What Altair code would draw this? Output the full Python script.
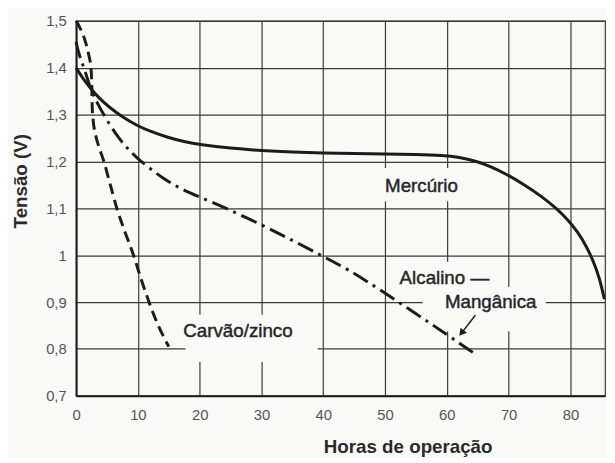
import altair as alt
import pandas as pd

# ---- data ----
merc_x = [0, 1, 2.4, 3.5, 5.3, 7.5, 9.8, 12, 14.9, 17.5, 20, 25, 30, 35, 40, 45, 50, 55,
          59.4, 62, 64.7, 67, 69.5, 72.5, 75.4, 77.8, 79.7, 81.2, 82.5, 83.7, 84.7, 85.5]
merc_y = [1.40, 1.379, 1.355, 1.338, 1.316, 1.295, 1.277, 1.264, 1.251, 1.242, 1.236, 1.228,
          1.223, 1.220, 1.218, 1.217, 1.216, 1.215, 1.213, 1.209, 1.201, 1.190, 1.174, 1.151,
          1.125, 1.099, 1.074, 1.049, 1.021, 0.988, 0.952, 0.906]

carv_x = [0, 0.7, 1.4, 2.0, 2.4, 2.55, 2.6, 2.75, 3.1, 3.6, 4.5, 5.5, 6.6, 7.9, 9.3, 10.5,
          11.8, 13.3, 15.0]
carv_y = [1.50, 1.483, 1.46, 1.43, 1.40, 1.36, 1.32, 1.29, 1.26, 1.235, 1.20, 1.152, 1.10,
          1.05, 1.0, 0.95, 0.90, 0.85, 0.805]

alc_x = [0, 0.5, 1.3, 2.4, 3.3, 4.2, 5.5, 6.9, 8.3, 9.8, 11.5, 13.8, 17, 20, 24.5, 30, 35,
         40, 44, 49, 55, 60, 64.5]
alc_y = [1.455, 1.426, 1.40, 1.352, 1.328, 1.306, 1.277, 1.25, 1.228, 1.208, 1.19, 1.166,
         1.141, 1.124, 1.099, 1.065, 1.032, 0.997, 0.97, 0.928, 0.875, 0.831, 0.79]

label_text = ["Mercúrio", "Carvão/zinco", "Alcalino —", "Mangânica"]
label_x = [55.9, 26.2, 59.6, 67.1]
label_y = [1.148, 0.838, 0.951, 0.899]

# paper-coloured boxes behind the labels (they interrupt the grid)
box_x = [48.9, 17.7, 51.3, 56.1]
box_x2 = [62.8, 39.1, 68.4, 76.0]
box_y = [1.115, 0.772, 0.923, 0.838]
box_y2 = [1.186, 0.873, 0.986, 0.932]

arrow_x = [64.6]
arrow_y = [0.872]
arrow_x2 = [62.5]
arrow_y2 = [0.836]

x_ticks = [0, 10, 20, 30, 40, 50, 60, 70, 80]
y_ticks = [0.7, 0.8, 0.9, 1.0, 1.1, 1.2, 1.3, 1.4, 1.5]

# ---- styling ----
BG = "#f9f9f7"
INK = "#1c1c1c"
GRID = "#3a3a3a"
FONT = "Liberation Sans"

xs = alt.Scale(domain=[0, 85.6], nice=False, zero=False)
ys = alt.Scale(domain=[0.7, 1.5], nice=False, zero=False)

xaxis = alt.Axis(values=x_ticks, grid=True, gridColor=GRID, gridWidth=1.2, gridOpacity=1,
                 ticks=False, domainColor=INK, domainWidth=2, labelFont=FONT,
                 labelFontSize=15, labelColor="#555555", labelPadding=12, labelFlush=False,
                 title="Horas de operação", titleFont=FONT, titleFontSize=19,
                 titleFontWeight="bold", titleColor="#2a2a2a", titleX=336, titleY=51,
                 titleAlign="center", titleBaseline="middle")
yaxis = alt.Axis(values=y_ticks, grid=True, gridColor=GRID, gridWidth=1.2, gridOpacity=1,
                 ticks=False, domainColor=INK, domainWidth=2, labelFont=FONT,
                 labelFontSize=15, labelColor="#555555", labelPadding=10,
                 labelExpr="replace(format(datum.value, '.1~f'), '.', ',')",
                 title="Tensão (V)", titleFont=FONT, titleFontSize=19,
                 titleFontWeight="bold", titleColor="#2a2a2a", titleX=-56, titleY=162,
                 titleAngle=270, titleAlign="center", titleBaseline="middle")


def X(f="x"):
    return alt.X(f, type="quantitative", scale=xs, axis=xaxis)


def Y(f="y"):
    return alt.Y(f, type="quantitative", scale=ys, axis=yaxis)


boxes = pd.DataFrame({"x": box_x, "x2": box_x2, "y": box_y, "y2": box_y2})
box_layer = alt.Chart(boxes).mark_rect(fill=BG, stroke=None).encode(
    x=X(), x2="x2", y=Y(), y2="y2")

merc = pd.DataFrame({"x": merc_x, "y": merc_y})
carv = pd.DataFrame({"x": carv_x, "y": carv_y})
alc = pd.DataFrame({"x": alc_x, "y": alc_y})

merc_layer = alt.Chart(merc).mark_line(color=INK, strokeWidth=3, interpolate="basis").encode(
    x=X(), y=Y())
carv_layer = alt.Chart(carv).mark_line(color=INK, strokeWidth=3, strokeDash=[11, 6],
                                       interpolate="monotone").encode(x=X(), y=Y())
alc_layer = alt.Chart(alc).mark_line(color=INK, strokeWidth=3, strokeDash=[17, 6, 3, 6],
                                     interpolate="basis").encode(x=X(), y=Y())

labels = pd.DataFrame({"x": label_x, "y": label_y, "t": label_text})
text_layer = alt.Chart(labels).mark_text(font=FONT, fontSize=19, color="#262626",
                                         stroke="#262626", strokeWidth=0.45,
                                         align="center", baseline="middle").encode(
    x=X(), y=Y(), text="t:N")

arrow = pd.DataFrame({"x": arrow_x, "y": arrow_y, "x2": arrow_x2, "y2": arrow_y2})
arrow_rule = alt.Chart(arrow).mark_rule(color=INK, strokeWidth=1.5).encode(
    x=X(), y=Y(), x2="x2", y2="y2")
arrow_head = alt.Chart(arrow).mark_point(shape="triangle", filled=True, size=70, angle=218,
                                         color=INK, opacity=1).encode(
    x=X("x2"), y=Y("y2"))

chart = alt.layer(box_layer, merc_layer, carv_layer, alc_layer, text_layer,
                  arrow_rule, arrow_head).properties(
    width=536, height=380,
    autosize=alt.AutoSizeParams(type="none"),
    padding={"left": 69, "top": 10, "right": 2, "bottom": 60},
    background=BG,
).configure_view(stroke=GRID, strokeWidth=1.2)

chart.save("out.html", embed_options={"renderer": "svg", "actions": False})
